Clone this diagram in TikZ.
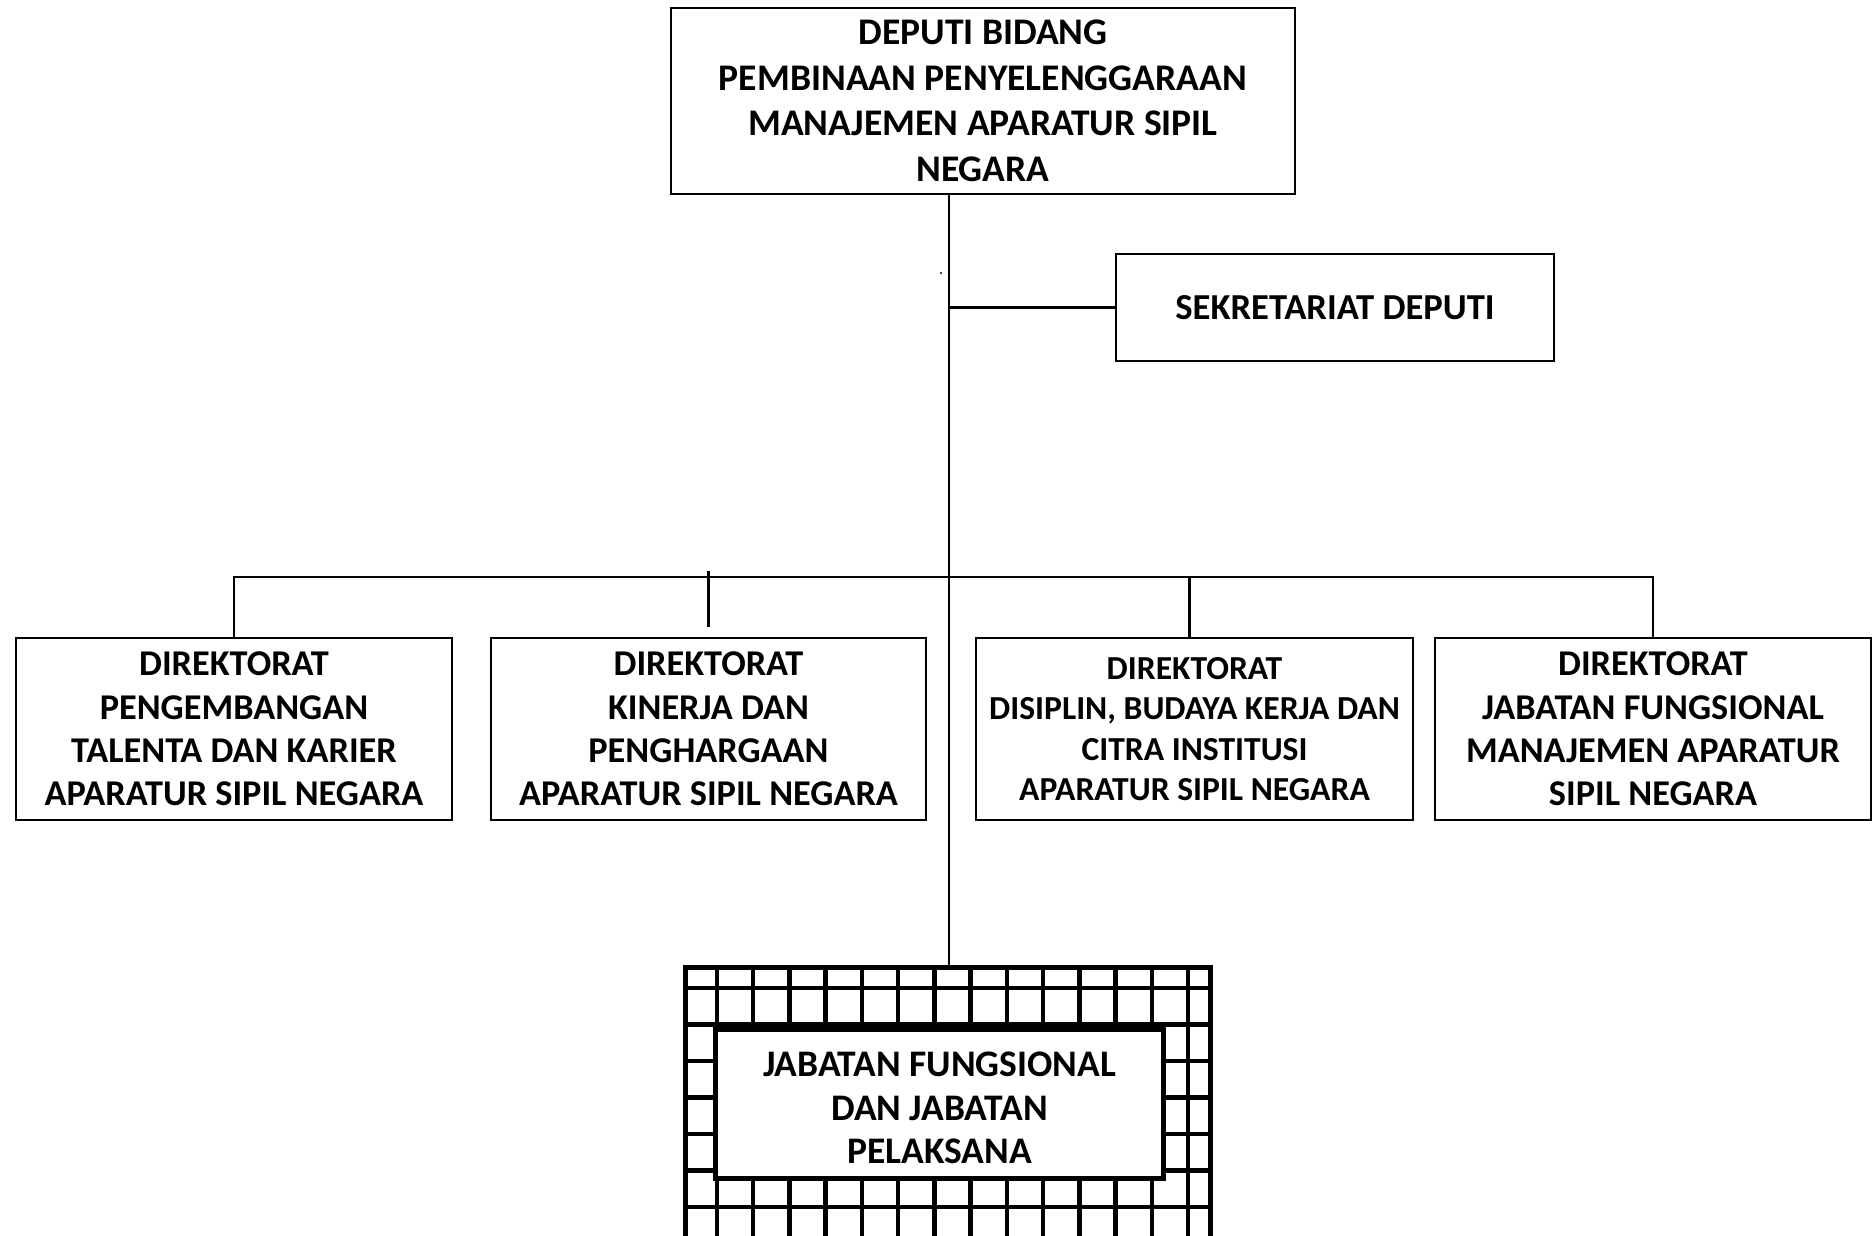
\documentclass[tikz,border=0pt]{standalone}
\usepackage{fontspec}
\setmainfont{Carlito}
\begin{document}
\begin{tikzpicture}[x=1pt,y=-1pt,
  box/.style={draw, line width=2.6pt, align=center, inner sep=0pt,
    font=\bfseries\fontsize{36.3}{43.3}\selectfont},
  dirbox/.style={box, minimum width=436pt, minimum height=182pt},
  link/.style={line width=2.4pt},
  gridline/.style={line width=4.4pt}]
\useasboundingbox (0,0) rectangle (1872,1235);

% head of the deputy
\node[box, minimum width=624pt, minimum height=186pt,
  font=\bfseries\fontsize{37.6}{45.5}\selectfont] (deputi) at (983,101)
  {DEPUTI BIDANG\\PEMBINAAN PENYELENGGARAAN\\MANAJEMEN APARATUR SIPIL\\NEGARA};

% secretariat
\node[box, minimum width=438pt, minimum height=107pt,
  font=\bfseries\fontsize{36.6}{44}\selectfont] (sek) at (1335,307.5)
  {SEKRETARIAT DEPUTI};

% directorates
\node[dirbox] (d1) at (234,729)
  {DIREKTORAT\\PENGEMBANGAN\\TALENTA DAN KARIER\\APARATUR SIPIL NEGARA};
\node[dirbox, minimum width=435pt] (d2) at (708.5,729)
  {DIREKTORAT\\KINERJA DAN\\PENGHARGAAN\\APARATUR SIPIL NEGARA};
\node[dirbox, minimum width=437pt, font=\bfseries\fontsize{33.6}{40.6}\selectfont] (d3) at (1194.5,729)
  {DIREKTORAT\\DISIPLIN, BUDAYA KERJA DAN\\CITRA INSTITUSI\\APARATUR SIPIL NEGARA};
\node[dirbox] (d4) at (1653,729)
  {DIREKTORAT\\JABATAN FUNGSIONAL\\MANAJEMEN APARATUR\\SIPIL NEGARA};

% functional positions: grid frame around a plain box
\node[minimum width=525pt, minimum height=300pt, inner sep=0pt, anchor=north west]
  (grid) at (685,967.5) {};
\begin{scope}
  \clip (grid.north west) rectangle (grid.south east);
  \foreach \k in {0,...,13}
    \draw[gridline] (717+36.23*\k,960) -- (717+36.23*\k,1270);
  \foreach \k in {0,...,7}
    \draw[gridline] (680,988+36.5*\k) -- (1215,988+36.5*\k);
\end{scope}
\draw[line width=5pt] (grid.north west) rectangle (grid.south east);
\node[draw, fill=white, line width=4.6pt, minimum width=448pt, minimum height=149pt,
  inner sep=0pt] (jf) at (939.5,1104) {};
\node[align=center, inner sep=0pt, font=\bfseries\fontsize{37.5}{43.5}\selectfont,
  yshift=-4pt] (jftext) at (jf.center)
  {JABATAN FUNGSIONAL\\DAN JABATAN\\PELAKSANA};

% connectors
\coordinate (tx) at (949,0);
\coordinate (bus) at (0,577);
\coordinate (bustop) at (0,571);
\draw[link] (deputi.south -| tx) -- (grid.north -| tx);
\draw[link] (sek.west) -- (sek.west -| tx);
\draw[link] (d1.north) -- (d1.north |- bus) -- (d4.north |- bus) -- (d4.north);
\draw[link] ([yshift=10pt]d2.north) -- (d2.north |- bustop);
\draw[link] ([xshift=-5pt]d3.north) -- ([xshift=-5pt]d3.north |- bus);

% small stray mark beside the trunk
\fill (941,273) circle (1.2pt);
\end{tikzpicture}
\end{document}
